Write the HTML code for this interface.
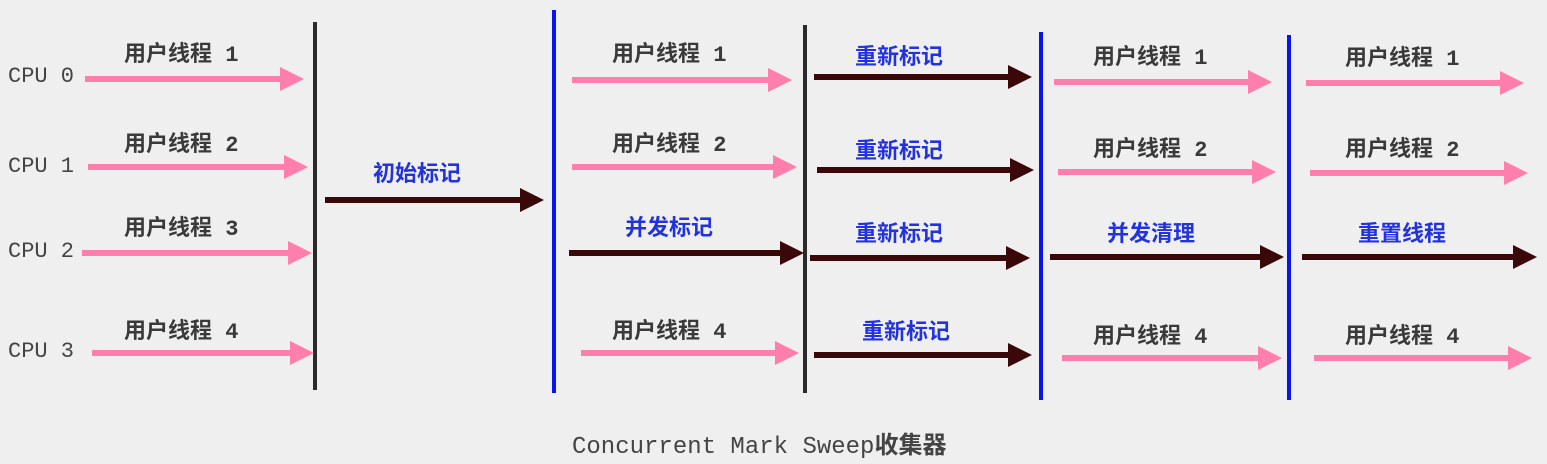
<!DOCTYPE html>
<html><head><meta charset="utf-8"><style>
html,body{margin:0;padding:0;background:#efefef;}
svg{display:block}
.u{font-family:"Liberation Mono","Noto Sans CJK SC",monospace;font-size:22px;fill:#3a3a3a;font-weight:bold}
.b{font-family:"Liberation Sans","Noto Sans CJK SC",sans-serif;font-size:22px;fill:#2233dd;font-weight:bold}
.c{font-family:"Liberation Mono",monospace;font-size:22px;fill:#444}
</style></head><body>
<svg width="1547" height="464" viewBox="0 0 1547 464" xmlns="http://www.w3.org/2000/svg">
<defs>
<marker id="p" markerWidth="4" markerHeight="4" refX="0" refY="2" orient="auto" markerUnits="strokeWidth"><path d="M0,0 L4,2 L0,4 z" fill="#ff7eac"/></marker>
<marker id="d" markerWidth="4" markerHeight="4" refX="0" refY="2" orient="auto" markerUnits="strokeWidth"><path d="M0,0 L4,2 L0,4 z" fill="#3a0808"/></marker>
</defs>
<rect width="1547" height="464" fill="#efefef"/>
<g stroke-width="6">
<line x1="315" y1="22" x2="315" y2="390" stroke="#2a2a2a" stroke-width="4"/>
<line x1="554" y1="10" x2="554" y2="393" stroke="#0a14ee" stroke-width="4"/>
<line x1="805" y1="25" x2="805" y2="393" stroke="#2a2a2a" stroke-width="4"/>
<line x1="1041" y1="32" x2="1041" y2="400" stroke="#0a14ee" stroke-width="4"/>
<line x1="1289" y1="35" x2="1289" y2="400" stroke="#0a14ee" stroke-width="4"/>
<g stroke="#ff7eac" marker-end="url(#p)">
<line x1="85" y1="79" x2="280" y2="79"/>
<line x1="88" y1="167" x2="284" y2="167"/>
<line x1="82" y1="253" x2="288" y2="253"/>
<line x1="92" y1="353" x2="290" y2="353"/>
<line x1="572" y1="80" x2="768" y2="80"/>
<line x1="572" y1="167" x2="773" y2="167"/>
<line x1="581" y1="353" x2="775" y2="353"/>
<line x1="1054" y1="82" x2="1248" y2="82"/>
<line x1="1058" y1="172" x2="1252" y2="172"/>
<line x1="1062" y1="358" x2="1258" y2="358"/>
<line x1="1306" y1="83" x2="1500" y2="83"/>
<line x1="1310" y1="173" x2="1504" y2="173"/>
<line x1="1314" y1="358" x2="1508" y2="358"/>
</g>
<g stroke="#3a0808" marker-end="url(#d)">
<line x1="325" y1="200" x2="520" y2="200"/>
<line x1="569" y1="253" x2="780" y2="253"/>
<line x1="814" y1="77" x2="1008" y2="77"/>
<line x1="817" y1="170" x2="1010" y2="170"/>
<line x1="810" y1="258" x2="1006" y2="258"/>
<line x1="814" y1="355" x2="1008" y2="355"/>
<line x1="1050" y1="257" x2="1260" y2="257"/>
<line x1="1302" y1="257" x2="1513" y2="257"/>
</g>
</g>
<text class="c" x="8" y="82">CPU 0</text>
<text class="c" x="8" y="172">CPU 1</text>
<text class="c" x="8" y="257">CPU 2</text>
<text class="c" x="8" y="357">CPU 3</text>
<text class="u" x="124" y="61">用户线程 1</text>
<text class="u" x="124" y="151">用户线程 2</text>
<text class="u" x="124" y="235">用户线程 3</text>
<text class="u" x="124" y="338">用户线程 4</text>
<text class="b" x="373" y="181">初始标记</text>
<text class="u" x="612" y="61">用户线程 1</text>
<text class="u" x="612" y="151">用户线程 2</text>
<text class="b" x="625" y="235">并发标记</text>
<text class="u" x="612" y="338">用户线程 4</text>
<text class="b" x="855" y="64">重新标记</text>
<text class="b" x="855" y="158">重新标记</text>
<text class="b" x="855" y="241">重新标记</text>
<text class="b" x="862" y="339">重新标记</text>
<text class="u" x="1093" y="64">用户线程 1</text>
<text class="u" x="1093" y="156">用户线程 2</text>
<text class="b" x="1107" y="241">并发清理</text>
<text class="u" x="1093" y="343">用户线程 4</text>
<text class="u" x="1345" y="65">用户线程 1</text>
<text class="u" x="1345" y="156">用户线程 2</text>
<text class="b" x="1358" y="241">重置线程</text>
<text class="u" x="1345" y="343">用户线程 4</text>
<text x="572" y="453" style="font-family:'Liberation Mono','Noto Sans CJK SC',monospace;font-size:24px;fill:#444">Concurrent Mark Sweep<tspan font-weight="bold">收集器</tspan></text>
</svg>
</body></html>
